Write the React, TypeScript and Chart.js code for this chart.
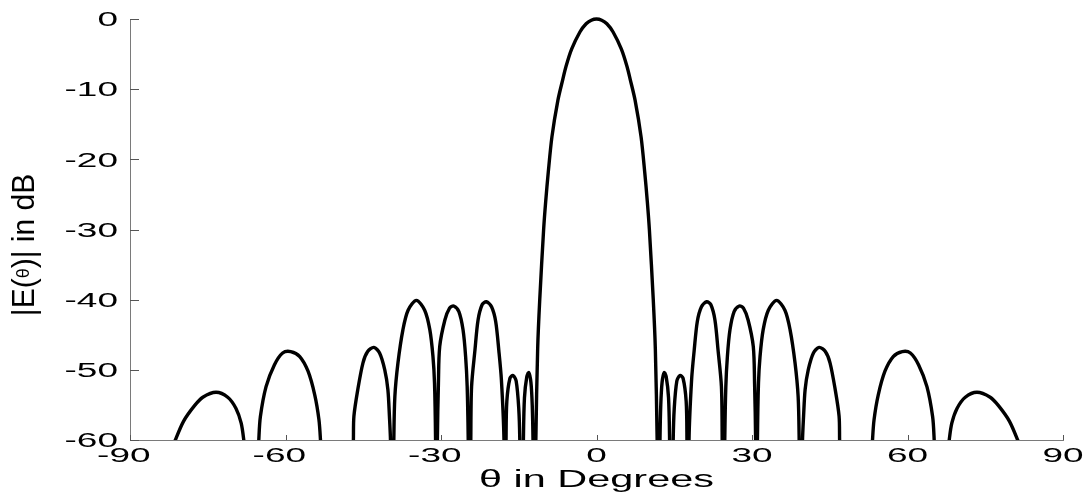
import React, { useEffect, useRef } from "react";
import { Chart, registerables } from "chart.js";

Chart.register(...registerables);

// ---- Data (theta in degrees, |E(theta)| in dB) ----
// values below -60 dB fall outside the axis and are clipped (nulls)
const thetaLeft = [
  -90, -84, -82.5, -81.25, -79.65, -77.55, -75.95, -73.4, -71.15, -69.55, -68.55, -68.05, -67.3,
  -66.3,
  -65.5, -65.15, -64.85, -63.75, -62.15, -60.55, -59.0, -57.25, -55.65, -54.35, -53.55, -53.25, -52.9,
  -50,
  -47.1, -46.9, -46.8, -46.05, -45.05, -44.15, -42.95, -41.85, -40.85, -40.25, -39.95, -39.75,
  -39.4,
  -39.1, -38.9, -38.3, -37.35, -36.35, -34.75, -33.15, -32.15, -31.55, -31.25, -31.05,
  -30.85,
  -30.7, -30.5, -30.25, -29.25, -28.35, -27.55, -26.55, -25.75, -25.25, -24.95, -24.75,
  -24.5,
  -24.25, -24.1, -23.45, -22.85, -22.05, -21.25, -20.25, -19.45, -18.85, -18.35, -17.85,
  -17.65,
  -17.45, -17.3, -16.7, -16.1, -15.5, -15.0, -14.8,
  -14.45,
  -14.1, -13.9, -13.45, -13.05, -12.65, -12.4, -12.25,
  -11.95,
  -11.7, -11.35, -10.95, -10.2, -9.8, -9.3, -8.6, -7.45, -6.5, -5.9, -4.8, -3.2, -2.0, -1.0, 0,
];
const gainLeft = [
  -80, -66, -62.5, -60, -57.3, -55.1, -53.9, -53.2, -53.9, -55.5, -57.6, -60, -65,
  -80,
  -66, -60, -56.7, -52.4, -49.3, -47.6, -47.4, -48.1, -50.2, -53.6, -57.1, -60, -65,
  -80,
  -66, -60, -56.6, -52.8, -49.0, -47.4, -46.8, -47.6, -50.0, -52.8, -56.6, -60,
  -80,
  -60, -53.8, -49.0, -44.3, -41.5, -40.1, -41.5, -44.3, -48.1, -51.9, -60,
  -80,
  -60, -52, -46.7, -42.9, -41.2, -40.9, -41.7, -44.3, -48.1, -52.4, -60,
  -80,
  -60, -52.4, -47.2, -42.9, -40.7, -40.3, -41.0, -43.1, -47.2, -51.4, -60,
  -80,
  -60, -54.5, -51.2, -50.8, -51.6, -55.5, -60,
  -80,
  -60, -54, -51, -50.4, -51.8, -55, -60,
  -80,
  -60, -47, -40, -30, -26, -21.8, -16.8, -11.6, -8.6, -6.8, -4.3, -1.85, -0.68, -0.17, 0,
];
const thetaRight = [
  1.0, 2.0, 3.2, 4.8, 5.9, 6.5, 7.45, 8.6, 9.3, 9.8, 10.2, 10.95, 11.35, 11.7,
  11.95,
  12.25, 12.4, 12.65, 13.05, 13.45, 13.9, 14.1,
  14.45,
  14.8, 15.0, 15.5, 16.1, 16.7, 17.3, 17.45,
  17.65,
  17.85, 18.35, 18.85, 19.45, 20.25, 21.25, 22.05, 22.85, 23.45, 24.1, 24.25,
  24.5,
  24.75, 24.95, 25.25, 25.75, 26.55, 27.55, 28.35, 29.25, 30.25, 30.5, 30.7,
  30.85,
  31.05, 31.25, 31.55, 32.15, 33.15, 34.75, 36.35, 37.35, 38.3, 38.9, 39.1,
  39.4,
  39.75, 39.95, 40.25, 40.85, 41.85, 42.95, 44.15, 45.05, 46.05, 46.8, 46.9, 47.1,
  50,
  52.9, 53.25, 53.55, 54.35, 55.65, 57.25, 59.0, 60.55, 62.15, 63.75, 64.85, 65.15, 65.5,
  66.3,
  67.3, 68.05, 68.55, 69.55, 71.15, 73.4, 75.95, 77.55, 79.65, 81.25, 82.5, 84, 90,
];
const gainRight = [
  -0.17, -0.68, -1.85, -4.3, -6.8, -8.6, -11.6, -16.8, -21.8, -26, -30, -40, -47, -60,
  -80,
  -60, -55, -51.8, -50.4, -51, -54, -60,
  -80,
  -60, -55.5, -51.6, -50.8, -51.2, -54.5, -60,
  -80,
  -60, -51.4, -47.2, -43.1, -41.0, -40.3, -40.7, -42.9, -47.2, -52.4, -60,
  -80,
  -60, -52.4, -48.1, -44.3, -41.7, -40.9, -41.2, -42.9, -46.7, -52, -60,
  -80,
  -60, -51.9, -48.1, -44.3, -41.5, -40.1, -41.5, -44.3, -49.0, -53.8, -60,
  -80,
  -60, -56.6, -52.8, -50.0, -47.6, -46.8, -47.4, -49.0, -52.8, -56.6, -60, -66,
  -80,
  -65, -60, -57.1, -53.6, -50.2, -48.1, -47.4, -47.6, -49.3, -52.4, -56.7, -60, -66,
  -80,
  -65, -60, -57.6, -55.5, -53.9, -53.2, -53.9, -55.1, -57.3, -60, -62.5, -66, -80,
];

const xTickValues = [-90, -60, -30, 0, 30, 60, 90];
const xTickLabels = ["-90", "-60", "-30", "0", "30", "60", "90"];
const yTickValues = [0, -10, -20, -30, -40, -50, -60];
const yTickLabels = ["0", "-10", "-20", "-30", "-40", "-50", "-60"];
const xTitle = "\u03b8 in Degrees";
const yTitleParts = ["|E(", "\u03b8", ")| in dB"];

const W = 1087;
const H = 493;
const FONT = '"Liberation Sans", Arial, Helvetica, sans-serif';

function drawStretched(
  ctx: CanvasRenderingContext2D,
  text: string,
  x: number,
  y: number,
  sx: number,
  size: number
) {
  ctx.save();
  ctx.translate(x, y);
  ctx.scale(sx, 1);
  ctx.font = `${size}px ${FONT}`;
  ctx.textAlign = "left";
  ctx.textBaseline = "alphabetic";
  ctx.fillText(text, 0, 0);
  ctx.restore();
}

const axisTextPlugin = {
  id: "axisText",
  afterDraw(chart: any) {
    const ctx: CanvasRenderingContext2D = chart.ctx;
    const xs = chart.scales.x;
    const ys = chart.scales.y;
    const area = chart.chartArea;
    ctx.save();

    // tick marks (inward)
    ctx.strokeStyle = "#555";
    ctx.lineWidth = 1;
    yTickValues.forEach((v) => {
      const py = Math.round(ys.getPixelForValue(v)) + 0.5;
      ctx.beginPath();
      ctx.moveTo(area.left, py);
      ctx.lineTo(area.left + 9, py);
      ctx.stroke();
    });
    xTickValues.forEach((v) => {
      const px = Math.round(xs.getPixelForValue(v)) + 0.5;
      ctx.beginPath();
      ctx.moveTo(px, area.bottom);
      ctx.lineTo(px, area.bottom - 5);
      ctx.stroke();
    });

    ctx.fillStyle = "#000";
    const tickSize = 20;
    const tickSx = 1.85;
    ctx.font = `${tickSize}px ${FONT}`;

    // y tick labels, right aligned
    yTickValues.forEach((v, i) => {
      const py = ys.getPixelForValue(v);
      const t = yTickLabels[i];
      const w = ctx.measureText(t).width * tickSx;
      drawStretched(ctx, t, 118 - w, py + 7.2, tickSx, tickSize);
    });

    // x tick labels: digits centred on tick, minus sign hanging left
    xTickValues.forEach((v, i) => {
      const px = xs.getPixelForValue(v);
      const t = xTickLabels[i];
      const digits = t.replace("-", "");
      ctx.font = `${tickSize}px ${FONT}`;
      const dw = ctx.measureText(digits).width * tickSx;
      const fw = ctx.measureText(t).width * tickSx;
      const startX = px - dw / 2 - (fw - dw);
      drawStretched(ctx, t, startX, 462, tickSx, tickSize);
    });

    // x title
    const xtSize = 23;
    ctx.font = `${xtSize}px ${FONT}`;
    const xtw = ctx.measureText(xTitle).width;
    const xtSx = 235 / xtw;
    const cx = (area.left + area.right) / 2;
    drawStretched(ctx, xTitle, cx - 117.5, 487, xtSx, xtSize);

    // y title (rotated)
    const ytSize = 30;
    const smallSize = 18;
    ctx.save();
    ctx.translate(34, 245);
    ctx.rotate(-Math.PI / 2);
    ctx.scale(1, 1.05);
    ctx.textBaseline = "alphabetic";
    ctx.textAlign = "left";
    ctx.font = `${ytSize}px ${FONT}`;
    const w0 = ctx.measureText(yTitleParts[0]).width;
    const w2 = ctx.measureText(yTitleParts[2]).width;
    ctx.font = `${smallSize}px ${FONT}`;
    const w1 = ctx.measureText(yTitleParts[1]).width;
    const total = w0 + w1 + w2;
    let x = -total / 2;
    ctx.font = `${ytSize}px ${FONT}`;
    ctx.fillText(yTitleParts[0], x, 0);
    x += w0;
    ctx.font = `${smallSize}px ${FONT}`;
    ctx.fillText(yTitleParts[1], x, -5);
    x += w1;
    ctx.font = `${ytSize}px ${FONT}`;
    ctx.fillText(yTitleParts[2], x, 0);
    ctx.restore();

    ctx.restore();
  },
};

export default function App() {
  const ref = useRef<HTMLCanvasElement | null>(null);

  useEffect(() => {
    const canvas = ref.current;
    if (!canvas) return;
    const theta = [...thetaLeft, ...thetaRight];
    const gain = [...gainLeft, ...gainRight];
    const points = theta.map((t, i) => ({ x: t, y: gain[i] }));

    const chart = new Chart(canvas, {
      type: "line",
      data: {
        datasets: [
          {
            data: points,
            borderColor: "#000",
            borderWidth: 3.4,
            pointRadius: 0,
            fill: false,
            tension: 0.3,
            borderJoinStyle: "round",
            clip: { left: 0, top: 4, right: 0, bottom: 0 } as any,
          },
        ],
      },
      options: {
        animation: false,
        responsive: false,
        maintainAspectRatio: false,
        layout: { padding: { top: 19, right: 24, left: 0, bottom: 0 } },
        elements: { line: { capBezierPoints: false } },
        plugins: {
          legend: { display: false },
          tooltip: { enabled: false },
        },
        scales: {
          x: {
            type: "linear",
            min: -90,
            max: 90,
            ticks: { display: false, stepSize: 30 },
            grid: { display: false },
            border: { display: true, color: "#7a7a7a", width: 1 },
            afterFit: (s: any) => {
              s.height = 53;
            },
          },
          y: {
            type: "linear",
            min: -60,
            max: 0,
            ticks: { display: false, stepSize: 10 },
            grid: { display: false },
            border: { display: true, color: "#7a7a7a", width: 1 },
            afterFit: (s: any) => {
              s.width = 130;
            },
          },
        },
      },
      plugins: [axisTextPlugin],
    } as any);

    return () => chart.destroy();
  }, []);

  return (
    <div
      style={{
        position: "fixed",
        left: 0,
        top: 0,
        width: W,
        height: H,
        background: "#fff",
      }}
    >
      <canvas ref={ref} width={W} height={H} style={{ display: "block", width: W, height: H }} />
    </div>
  );
}
